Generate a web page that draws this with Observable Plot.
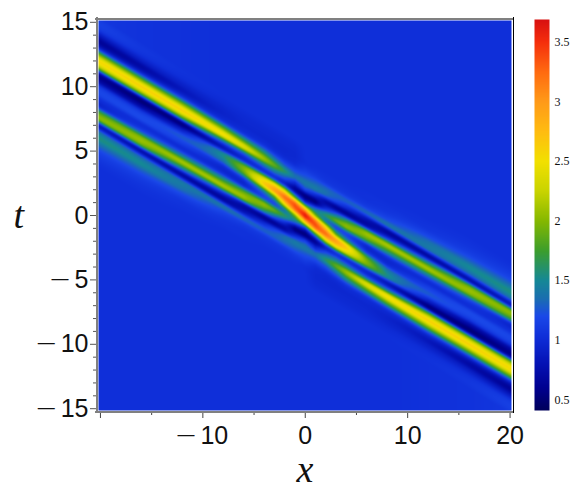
<!DOCTYPE html>
<html>
<head>
<meta charset="utf-8">
<script src="https://cdn.jsdelivr.net/npm/d3@7"></script>
<script src="https://cdn.jsdelivr.net/npm/@observablehq/plot@0.6"></script>
<style>
html,body{margin:0;padding:0;background:#fff}
#wrap{position:relative;width:578px;height:494px}
#wrap svg{position:absolute;left:0;top:0;background:transparent}
</style>
</head>
<body>
<div id="wrap"></div>
<script>
// Values read along diagonal strips of the picture: each column is a vertical slice at xColumns[i],
// sampled at t = sRows[j] - slope * x
const slope = 0.47;
const xColumns = [-20,-16,-12,-8,-6,-4,-3,-2,-1,0,1,2,3,4,6,8,12,16,20];
const sRows = [-6,-5.5,-5,-4.5,-4,-3.5,-3,-2.5,-2,-1.5,-1,-0.5,0,0.5,1,1.5,2,2.5,3,3.5,4,4.5,5,5.5,6];
const colM20 = [1.03,1.05,1.1,1.18,1.35,1.55,1.35,0.88,1.95,1.8,1.02,1.02,1.18,1.1,0.68,0.72,2.05,2.55,1.95,1.0,0.65,0.85,1.1,1.14,1.08];
const colM16 = [1.03,1.05,1.08,1.15,1.3,1.5,1.3,0.8,1.9,2.0,1.25,1.02,1.2,1.1,0.68,0.62,2.0,2.6,1.95,1.05,0.72,0.9,1.05,1.08,1.05];
const colM12 = [1.03,1.03,1.05,1.08,1.2,1.38,1.35,0.72,1.45,2.1,1.45,1.02,1.15,1.25,0.9,0.6,1.9,2.6,2.0,1.15,0.85,0.92,1.02,1.05,1.04];
const colM8 = [1.03,1.03,1.03,1.05,1.08,1.18,1.35,0.68,1.1,2.1,1.65,1.05,1.0,1.4,1.5,0.85,1.4,2.5,1.9,1.12,0.95,0.95,1.0,1.03,1.03];
const colM6 = [1.03,1.03,1.03,1.04,1.05,1.12,1.3,0.8,0.8,2.0,1.85,1.02,1.1,1.85,1.9,1.0,1.3,2.35,1.75,1.1,0.98,0.98,1.0,1.03,1.03];
const colM4 = [1.03,1.03,1.03,1.03,1.05,1.1,1.28,1.0,0.65,1.6,2.0,1.2,1.5,2.6,2.3,1.08,1.4,2.05,1.6,1.1,0.98,0.98,1.0,1.03,1.03];
const colM3 = [1.03,1.03,1.03,1.03,1.05,1.1,1.3,1.15,0.65,1.3,1.85,1.2,1.8,2.9,2.45,1.1,1.4,1.85,1.4,1.05,0.97,0.98,1.0,1.03,1.03];
const colM2 = [1.03,1.03,1.03,1.03,1.05,1.1,1.32,1.3,0.72,1.0,1.6,1.45,2.6,3.2,2.3,1.0,1.25,1.6,1.25,1.02,0.97,0.98,1.0,1.03,1.03];
const colM1 = [1.03,1.03,1.03,1.03,1.05,1.12,1.3,1.4,0.95,0.55,1.3,1.95,3.2,3.2,1.7,0.68,0.95,1.35,1.2,1.02,0.98,0.98,1.0,1.03,1.03];
const colZ0 = [1.03,1.03,1.03,1.03,1.03,1.12,1.25,1.4,1.15,0.55,1.1,2.7,3.6,2.7,1.1,0.55,1.15,1.4,1.25,1.12,1.03,1.03,1.03,1.03,1.03];
const colP1 = [1.03,1.03,1.0,0.98,0.98,1.02,1.2,1.35,0.95,0.68,1.7,3.2,3.2,1.95,1.3,0.55,0.95,1.4,1.3,1.12,1.05,1.03,1.03,1.03,1.03];
const colP2 = [1.03,1.03,1.0,0.98,0.97,1.02,1.25,1.6,1.25,1.0,2.3,3.2,2.6,1.45,1.6,1.0,0.72,1.3,1.32,1.1,1.05,1.03,1.03,1.03,1.03];
const colP3 = [1.03,1.03,1.0,0.98,0.97,1.05,1.4,1.85,1.4,1.1,2.45,2.9,1.8,1.2,1.85,1.3,0.65,1.15,1.3,1.1,1.05,1.03,1.03,1.03,1.03];
const colP4 = [1.03,1.03,1.0,0.98,0.98,1.1,1.6,2.05,1.4,1.08,2.3,2.6,1.5,1.2,2.0,1.6,0.65,1.0,1.28,1.1,1.05,1.03,1.03,1.03,1.03];
const colP6 = [1.03,1.03,1.0,0.98,0.98,1.1,1.75,2.35,1.3,1.0,1.9,1.85,1.1,1.02,1.85,2.0,0.8,0.8,1.3,1.12,1.05,1.04,1.03,1.03,1.03];
const colP8 = [1.03,1.03,1.0,0.95,0.95,1.12,1.9,2.5,1.4,0.85,1.5,1.4,1.0,1.05,1.65,2.1,1.1,0.68,1.35,1.18,1.08,1.05,1.03,1.03,1.03];
const colP12 = [1.04,1.05,1.02,0.92,0.85,1.15,2.0,2.6,1.9,0.6,0.9,1.25,1.15,1.02,1.45,2.1,1.45,0.72,1.35,1.38,1.2,1.08,1.05,1.03,1.03];
const colP16 = [1.05,1.08,1.05,0.9,0.72,1.05,1.95,2.6,2.0,0.62,0.68,1.1,1.2,1.02,1.25,2.0,1.9,0.8,1.3,1.5,1.3,1.15,1.08,1.05,1.03];
const colP20 = [1.08,1.14,1.1,0.85,0.65,1.0,1.95,2.55,2.05,0.72,0.68,1.1,1.18,1.02,1.02,1.8,1.95,0.88,1.35,1.55,1.35,1.18,1.1,1.05,1.03];
const columns = [colM20,colM16,colM12,colM8,colM6,colM4,colM3,colM2,colM1,colZ0,colP1,colP2,colP3,colP4,colP6,colP8,colP12,colP16,colP20];

const xLabelled = [-10,0,10,20];
const xUnlabelled = [-20];
const xMinor = [-15,-5,5,15];
const tMajor = [-15,-10,-5,0,5,10,15];
const tMinor = d3.range(-15,16).filter(d => d % 5 !== 0);
const barTicks = [0.5,1,1.5,2,2.5,3,3.5];
const colorStops = [0.41,0.6,0.8,1.03,1.2,1.35,1.5,1.75,2.0,2.25,2.5,2.75,3.0,3.25,3.5,3.69];
const colorHexes = ["#00005a","#000090","#0412b4","#0f2fd9","#1a48e8","#1a6eb0","#158896","#3c9e2c","#85b800","#c9d400","#f2e000","#ffbc10","#ff9a18","#ff6a10","#f52e0c","#d81010"];
const colorScale = {type:"linear", domain:colorStops, range:colorHexes, clamp:true};

function locate(arr, v){
  const c = Math.max(arr[0], Math.min(arr[arr.length-1], v));
  let i = d3.bisectRight(arr, c) - 1;
  if (i >= arr.length-1) i = arr.length-2;
  return [i, (c-arr[i])/(arr[i+1]-arr[i])];
}
function across(col, j, w){
  const n = col.length-1;
  const p0 = col[Math.max(0,j-1)], p1 = col[j], p2 = col[j+1], p3 = col[Math.min(n,j+2)];
  return 0.5*((2*p1)+(-p0+p2)*w+(2*p0-5*p1+4*p2-p3)*w*w+(-p0+3*p1-3*p2+p3)*w*w*w);
}
function sample(x, t){
  const [i,u] = locate(xColumns, x);
  const [j,w] = locate(sRows, t + slope*x);
  return across(columns[i],j,w)*(1-u)+across(columns[i+1],j,w)*u;
}

const xDomain = [-20.19,20.14];
const tDomain = [-15.14,15.14];
const sans = "Liberation Sans, Arial, sans-serif";
const serif = "Liberation Serif, Times New Roman, serif";
const fmt = d => d < 0 ? "\u2014 " + Math.abs(d) : String(d);

const main = Plot.plot({
  width:578, height:494,
  marginLeft:98, marginRight:67, marginTop:20, marginBottom:84,
  style:{fontFamily:sans, background:"transparent"},
  x:{domain:xDomain, label:null},
  y:{domain:tDomain, label:null},
  color:colorScale,
  marks:[
    Plot.raster({x1:xDomain[0],x2:xDomain[1],y1:tDomain[0],y2:tDomain[1],fill:sample,pixelSize:1}),
    Plot.axisX({ticks:xLabelled,tickSize:6,dy:2,tickPadding:8,tickFormat:fmt,fontSize:25,stroke:"#444",fill:"#111"}),
    Plot.axisX({ticks:xUnlabelled,tickSize:6,dy:2,text:null,stroke:"#444",label:null}),
    Plot.axisX({ticks:xMinor,tickSize:3,dy:2,text:null,stroke:"#444",label:null}),
    Plot.axisY({ticks:tMajor,tickSize:6,dx:-2,tickPadding:2,tickFormat:fmt,fontSize:25,stroke:"#555",fill:"#111"}),
    Plot.axisY({ticks:tMinor,tickSize:3,dx:-2,text:null,stroke:"#555",label:null}),
    Plot.ruleX([xDomain[0]],{dx:-1.5,strokeWidth:2,stroke:"#808080",insetTop:-3,insetBottom:-3}),
    Plot.ruleY([tDomain[1]],{dy:-1.5,strokeWidth:2,stroke:"#808080",insetLeft:-3,insetRight:-3}),
    Plot.ruleY([tDomain[0]],{dy:1.5,strokeWidth:2,stroke:"#808080",insetLeft:-3,insetRight:-3}),
    Plot.ruleX([xDomain[1]],{dx:2,strokeWidth:1,stroke:"#000",insetTop:-3,insetBottom:-3}),
    Plot.text(["x"],{frameAnchor:"bottom",dy:71,fontSize:38,fontStyle:"italic",fontFamily:serif,fill:"#111"}),
    Plot.text(["t"],{frameAnchor:"left",dx:-85,fontSize:38,fontStyle:"italic",fontFamily:serif,fill:"#111"})
  ]
});

// Long, thin minus dash of the reference, as a smaller em dash in front of the digits
d3.select(main).selectAll("text").each(function(){
  const s = this.textContent;
  if (s.startsWith("\u2014 ")) {
    const sel = d3.select(this); sel.text(null);
    sel.append("tspan").attr("font-size",17).attr("dy",-4).text("\u2014");
    sel.append("tspan").attr("dy",4).attr("dx",6).text(s.slice(2));
  }
});

const bar = Plot.plot({
  width:578, height:494,
  marginLeft:534, marginRight:29, marginTop:19, marginBottom:84,
  style:{fontFamily:serif, background:"transparent"},
  x:{domain:[0,1], axis:null},
  y:{domain:[0.41,3.69], label:null},
  color:colorScale,
  marks:[
    Plot.raster({x1:0,x2:1,y1:0.41,y2:3.69,fill:(x,y)=>y,pixelSize:1}),
    Plot.axisY({anchor:"right",ticks:barTicks,tickSize:0,tickPadding:5,fontSize:12,tickFormat:d=>String(d),fill:"#111",style:{letterSpacing:"1px"}})
  ]
});
const wrap = document.getElementById("wrap");
wrap.append(main);
wrap.append(bar);
</script>
</body>
</html>
